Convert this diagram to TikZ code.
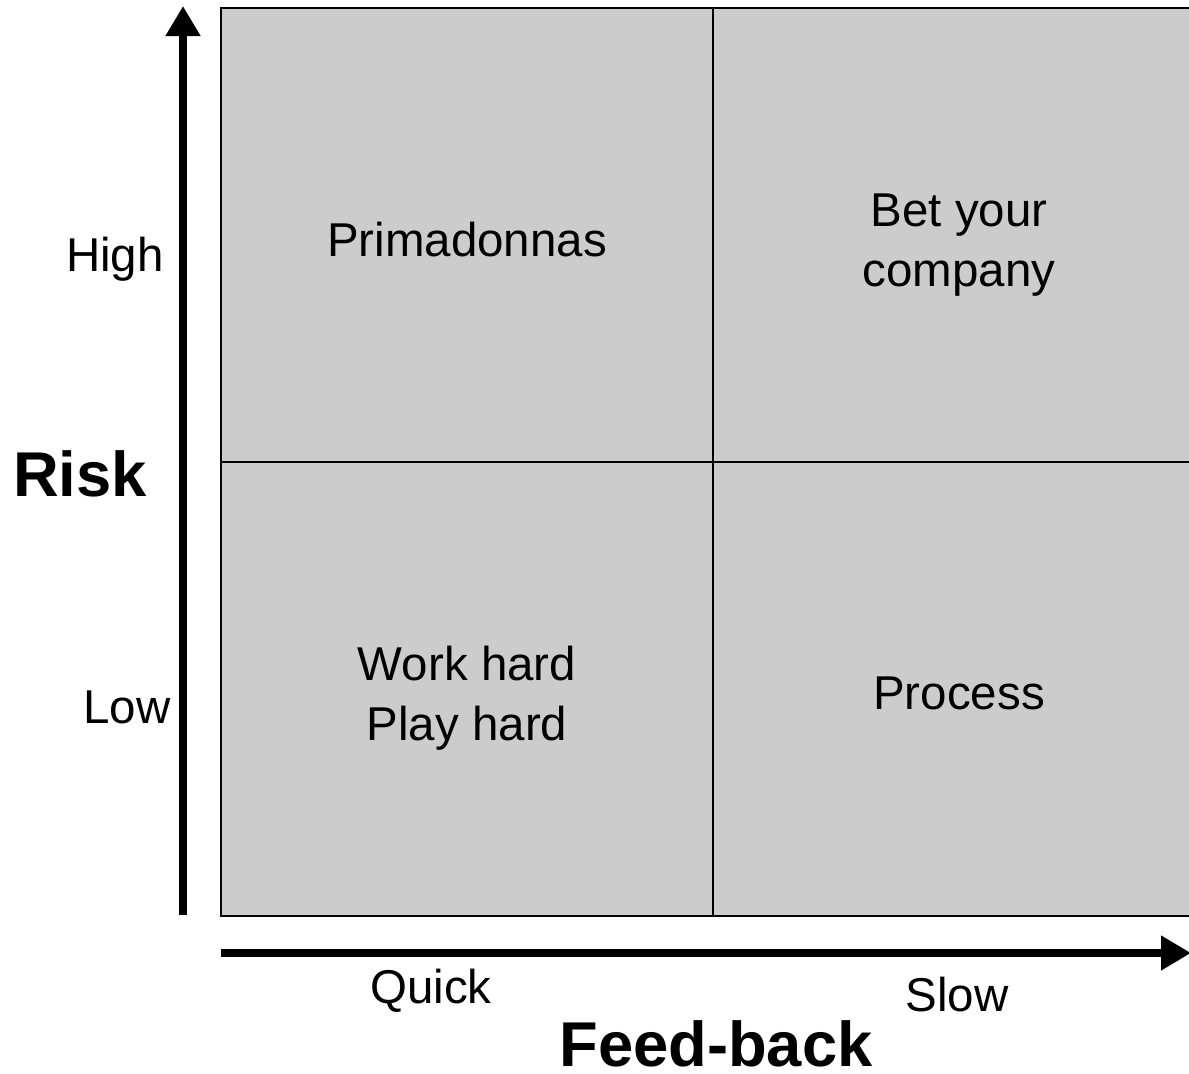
\documentclass[tikz,border=0pt]{standalone}
\usepackage{fontspec}
\setmainfont{Liberation Sans}
\usetikzlibrary{arrows.meta,positioning}
\definecolor{cellgray}{HTML}{CCCCCC}

\begin{document}
\begin{tikzpicture}[x=0.01cm,y=-0.01cm,
  cell/.style={draw=black, line width=0.6pt, fill=cellgray, minimum width=4.92cm, minimum height=4.54cm, inner sep=0pt},
  celltext/.style={align=center, font=\fontsize{13.5}{17}\selectfont},
  tick/.style={font=\fontsize{13.5}{17}\selectfont},
  axis/.style={line width=2.3pt, -{Triangle[width=0.33cm,length=0.3cm]}},
  title/.style={inner sep=0pt, font=\fontsize{18}{21}\selectfont\bfseries}]
\useasboundingbox (0,0) rectangle (1189,1074);

% quadrants
\node[cell] (tl) at (467,235) {};
\node[cell] (tr) at (959,235) {};
\node[cell] (bl) at (467,689) {};
\node[cell] (br) at (959,689) {};

\node[celltext] (tltext) at (467,240) {Primadonnas};
\node[celltext] (trtext) at (959,245) {Bet your\\company};
\node[celltext] (bltext) at (467,698) {Work hard\\Play hard};
\node[celltext] (brtext) at (959,693) {Process};

% axes
\coordinate (ybot) at (183,915);
\coordinate (ytop) at (183,6);
\coordinate (xleft) at (221,953);
\coordinate (xright) at (1191,953);
\draw[axis] (ybot) -- (ytop);
\draw[axis] (xleft) -- (xright);

\node[tick] (high) at (115,259) {High};
\node[tick] (low) at (127,707) {Low};
\node[title] (risk) at (80,474) {Risk};
\node[tick] (quick) at (431,991) {Quick};
\node[tick] (slow) at (957,995) {Slow};
\node[title] (feed) at (716,1044) {Feed-back};
\end{tikzpicture}
\end{document}
